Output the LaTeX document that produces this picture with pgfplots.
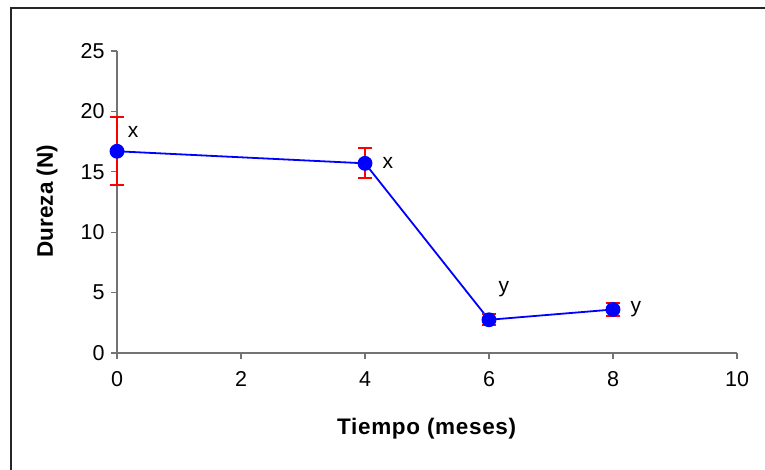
\documentclass[border=0pt]{standalone}
\usepackage{pgfplots}
\pgfplotsset{compat=1.18}
\usepackage{fontspec}
\setmainfont{Liberation Sans}

\begin{document}
\begin{tikzpicture}[x=1pt,y=1pt]
  % page area and outer frame
  \useasboundingbox (0,0) rectangle (765,470);
  \draw[black!85, line width=1.5pt] (11,0) -- (11,462) -- (765,462);

  \begin{axis}[
    at={(117pt,117pt)}, anchor=south west,
    scale only axis, width=620pt, height=302pt,
    xmin=0, xmax=10, ymin=0, ymax=25,
    axis x line=bottom, axis y line=left,
    axis line style={draw=black!55, line width=1.5pt, -},
    xtick={0,2,4,6,8,10}, ytick={0,5,10,15,20,25},
    tick align=outside, major tick length=6pt,
    tick style={draw=black!55, line width=1.2pt},
    /pgf/number format/assume math mode=true,
    ticklabel style={font=\fontsize{21.5}{25}\selectfont},
    yticklabel style={xshift=-3pt},
    xticklabel style={yshift=-9pt},
    xlabel={\textbf{\addfontfeature{LetterSpace=3}Tiempo (meses)}},
    ylabel={\textbf{Dureza (N)}},
    label style={font=\fontsize{22.5}{26}\selectfont},
    xlabel style={at={(axis description cs:0.5,-0.25)}, anchor=center},
    ylabel style={at={(axis description cs:-0.113,0.503)}, anchor=center},
    clip=false,
  ]
    \addplot[
      blue, line width=1.8pt,
      mark=*, mark size=6.5pt, mark options={fill=blue, draw=blue},
      error bars/.cd, y dir=both, y explicit,
      error bar style={red, line width=2pt},
      error mark options={rotate=90, red, mark size=7pt, line width=2pt},
    ] table[x=t, y=d, y error=e] {
      t d    e
      0 16.7 2.8
      4 15.7 1.25
      6 2.75 0.45
      8 3.6  0.55
    };
    % significance letters
    \node[font=\fontsize{21}{25}\selectfont] at (axis cs:0.26,18.3) {x};
    \node[font=\fontsize{21}{25}\selectfont] at (axis cs:4.37,15.7) {x};
    \node[font=\fontsize{21}{25}\selectfont] at (axis cs:6.24,5.3) {y};
    \node[font=\fontsize{21}{25}\selectfont] at (axis cs:8.37,3.64) {y};
  \end{axis}
\end{tikzpicture}
\end{document}
